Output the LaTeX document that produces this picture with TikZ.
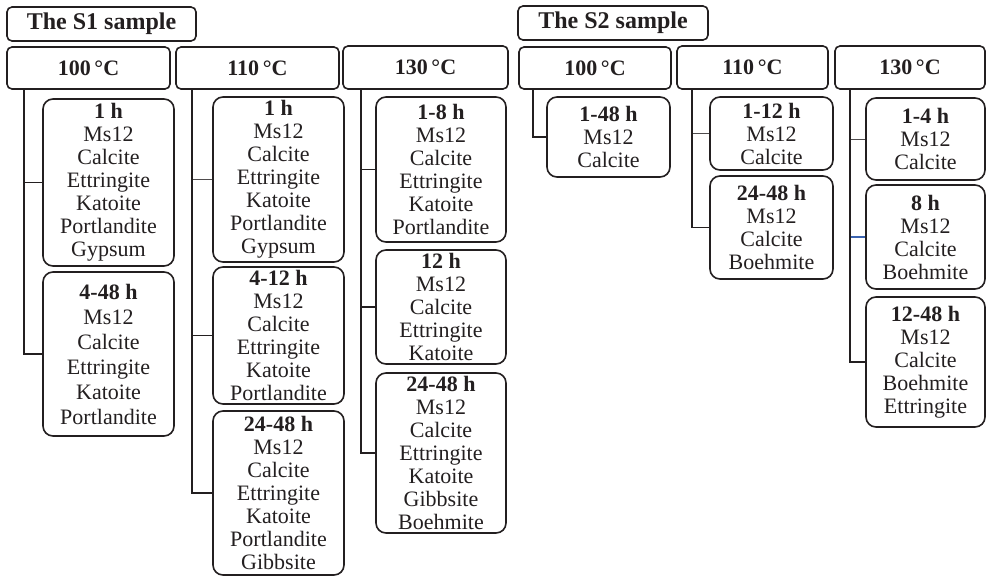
\documentclass[tikz,border=0pt]{standalone}
\usepackage{fontspec}
\setmainfont{Liberation Serif}
\definecolor{ink}{HTML}{231F20}
\definecolor{linkblue}{HTML}{3A63B0}
\newcommand\mybox[7]{\node[#6, minimum width={(#4-#2)*1pt}, minimum height={(#5-#3)*1pt}] (#1) at ({(#2+#4)/2},{(#3+#5)/2}) {#7};}
\tikzset{
  hdr/.style={draw=ink, line width=1.6pt, rounded corners=5pt, inner sep=0pt, text=ink,
    font=\fontsize{22}{24}\selectfont\bfseries},
  samp/.style={hdr, font=\fontsize{24}{26}\selectfont\bfseries},
  kid/.style={draw=ink, line width=1.6pt, rounded corners=10pt, inner sep=0pt, align=center, text=ink,
    font=\fontsize{22}{23}\selectfont},
  kidwide/.style={kid, font=\fontsize{22}{25}\selectfont},
  conn/.style={draw=ink, line width=1.5pt},
  thinconn/.style={draw=ink!80, line width=0.8pt},
  blueconn/.style={draw=linkblue, line width=1.2pt},
}
\begin{document}
\begin{tikzpicture}[x=1pt,y=-1pt]
\useasboundingbox (0,0) rectangle (986,576);
% sample headers
\mybox{s1}{7}{7}{196}{41}{samp}{The S1 sample}
\mybox{s2}{518}{6}{708}{40}{samp}{The S2 sample}
% temperature headers
\mybox{t1a}{7}{47}{170}{89}{hdr}{100\,°C}
\mybox{t1b}{176}{47}{339}{89}{hdr}{110\,°C}
\mybox{t1c}{343}{46}{508}{89}{hdr}{130\,°C}
\mybox{t2a}{519}{47}{671}{89}{hdr}{100\,°C}
\mybox{t2b}{677}{46}{828}{89}{hdr}{110\,°C}
\mybox{t2c}{835}{46}{985}{89}{hdr}{130\,°C}
% S1 100
\mybox{a1}{43}{99}{174}{266}{kid}{\textbf{1 h}\\Ms12\\Calcite\\Ettringite\\Katoite\\Portlandite\\Gypsum}
\mybox{a2}{43}{272}{174}{436}{kidwide}{\textbf{4-48 h}\\Ms12\\Calcite\\Ettringite\\Katoite\\Portlandite}
% S1 110
\mybox{b1}{213}{97}{344}{262}{kid}{\textbf{1 h}\\Ms12\\Calcite\\Ettringite\\Katoite\\Portlandite\\Gypsum}
\mybox{b2}{213}{267}{344}{404}{kid}{\textbf{4-12 h}\\Ms12\\Calcite\\Ettringite\\Katoite\\Portlandite}
\mybox{b3}{213}{411}{344}{575}{kid}{\textbf{24-48 h}\\Ms12\\Calcite\\Ettringite\\Katoite\\Portlandite\\Gibbsite}
% S1 130
\mybox{c1}{376}{97}{506}{242}{kid}{\textbf{1-8 h}\\Ms12\\Calcite\\Ettringite\\Katoite\\Portlandite}
\mybox{c2}{376}{250}{506}{364}{kid}{\textbf{12 h}\\Ms12\\Calcite\\Ettringite\\Katoite}
\mybox{c3}{376}{373}{506}{533}{kid}{\textbf{24-48 h}\\Ms12\\Calcite\\Ettringite\\Katoite\\Gibbsite\\Boehmite}
% S2 100
\mybox{d1}{547}{97}{670}{177}{kid}{\textbf{1-48 h}\\Ms12\\Calcite}
% S2 110
\mybox{e1}{710}{97}{833}{170}{kid}{\textbf{1-12 h}\\Ms12\\Calcite}
\mybox{e2}{710}{176}{833}{279}{kid}{\textbf{24-48 h}\\Ms12\\Calcite\\Boehmite}
% S2 130
\mybox{f1}{866}{98}{985}{180}{kid}{\textbf{1-4 h}\\Ms12\\Calcite}
\mybox{f2}{866}{185}{985}{289}{kid}{\textbf{8 h}\\Ms12\\Calcite\\Boehmite}
\mybox{f3}{866}{297}{985}{427}{kid}{\textbf{12-48 h}\\Ms12\\Calcite\\Boehmite\\Ettringite}
% connectors S1
\draw[conn] ([xshift=18pt]t1a.south west) |- (a1.west);
\draw[conn] ([xshift=18pt]t1a.south west) |- (a2.west);
\draw[thinconn] ([xshift=17pt]t1b.south west |- b1.west) -- (b1.west);
\draw[conn] ([xshift=17pt]t1b.south west) |- (b2.west);
\draw[conn] ([xshift=17pt]t1b.south west) |- (b3.west);
\draw[conn] ([xshift=19pt]t1c.south west) |- (c1.west);
\draw[conn] ([xshift=19pt]t1c.south west) |- (c2.west);
\draw[conn] ([xshift=19pt]t1c.south west) |- (c3.west);
% connectors S2
\draw[conn] ([xshift=15pt]t2a.south west) |- (d1.west);
\draw[thinconn] ([xshift=16pt]t2b.south west |- e1.west) -- (e1.west);
\draw[conn] ([xshift=16pt]t2b.south west) |- (e2.west);
\draw[thinconn] ([xshift=16pt]t2c.south west |- f1.west) -- (f1.west);
\draw[blueconn] ([xshift=16pt]t2c.south west |- f2.west) -- (f2.west);
\draw[conn] ([xshift=16pt]t2c.south west) |- (f3.west);
\end{tikzpicture}
\end{document}
